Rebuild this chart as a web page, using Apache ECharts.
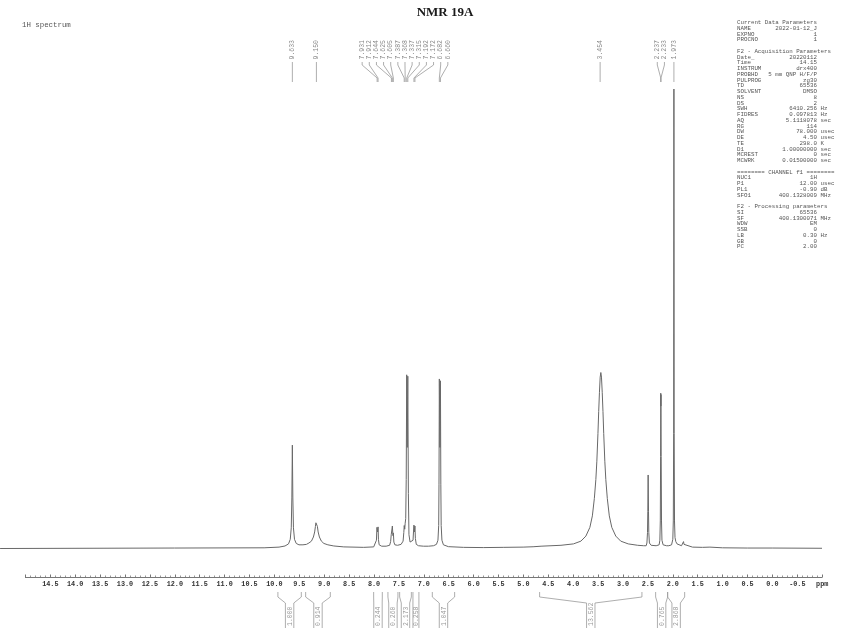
<!DOCTYPE html>
<html><head><meta charset="utf-8">
<script src="https://cdn.jsdelivr.net/npm/echarts@6/dist/echarts.min.js"></script>
<style>html,body{margin:0;padding:0;background:#fff}#c{width:860px;height:637px}</style>
</head><body><div id="c"></div>
<script>
const titleText = 'NMR 19A';
const subtitleText = '1H spectrum';

// spectrum: chemical shift (ppm) and relative intensity (%)
const specPpm = [15.50,12.0,10.2,9.9,9.78,9.71,9.675,9.655,9.643,9.633,9.623,9.611,9.59,9.555,9.5,9.42,9.35,9.30,9.25,9.21,9.185,9.17,9.16,9.15,9.14,9.13,9.115,9.09,9.05,9.0,8.92,8.8,8.6,8.2,8.0,7.96,7.945,7.935,7.931,7.921,7.912,7.905,7.89,7.84,7.75,7.68,7.66,7.648,7.644,7.634,7.625,7.614,7.605,7.595,7.575,7.52,7.45,7.41,7.395,7.387,7.377,7.368,7.357,7.347,7.337,7.326,7.315,7.304,7.292,7.27,7.235,7.21,7.2,7.192,7.182,7.172,7.163,7.145,7.1,7.0,6.9,6.8,6.74,6.71,6.695,6.689,6.682,6.671,6.660,6.652,6.645,6.63,6.6,6.5,6.2,5.8,5.4,5.0,4.8,4.64,4.24,3.99,3.84,3.74,3.66,3.61,3.57,3.54,3.52,3.498,3.483,3.468,3.453,3.44,3.427,3.412,3.397,3.382,3.36,3.34,3.31,3.27,3.22,3.14,3.04,2.89,2.7,2.58,2.53,2.515,2.503,2.497,2.49,2.483,2.477,2.465,2.43,2.33,2.27,2.255,2.246,2.24,2.237,2.235,2.233,2.229,2.222,2.213,2.19,2.12,2.085,2.075,2.02,1.995,1.985,1.978,1.973,1.968,1.961,1.951,1.935,1.91,1.87,1.82,1.79,1.78,1.77,1.74,1.6,1.4,1.25,1.225,1.21,1.0,0.5,0.0,-1.0];
const specInt = [0,0.1,0.15,0.3,0.55,1.0,2.0,4.5,11,22.5,11,4.5,2.0,1.1,0.8,0.8,0.9,1.2,1.6,2.5,3.6,4.8,5.6,6.0,5.6,4.8,3.6,2.5,1.6,1.1,0.8,0.55,0.35,0.25,0.35,0.7,1.8,4.6,4.9,3.6,4.7,2.0,0.8,0.5,0.5,0.7,1.5,3.0,3.2,2.6,4.9,2.8,3.4,1.4,0.8,0.7,0.9,1.6,3.5,5.0,4.2,5.5,6.5,15,37.8,22,37.5,12,3.0,1.4,1.1,1.8,3.8,5.1,3.6,4.9,2.2,0.9,0.6,0.5,0.5,0.6,0.9,1.8,5,14,36.9,22,36.5,14,5,1.8,0.8,0.4,0.25,0.2,0.25,0.3,0.38,0.5,0.7,1.0,1.6,2.7,4.6,7.1,10.9,15,19,25,29.8,34,37.3,38.3,37.3,34,29.8,25,19,15,10.9,7.1,4.6,2.7,1.6,1.0,0.7,0.6,0.6,1.2,3.5,8,16.0,8,3.5,1.2,0.7,0.6,0.8,1.8,6,20,33.8,31,33.5,20,6,1.8,0.8,0.6,0.9,0.6,0.8,2.0,6,25,100,25,6,2.4,1.5,1.0,0.6,0.6,1.0,1.5,0.9,0.5,0.3,0.25,0.3,0.6,0.3,0.15,0.1,0.1,0.05];

// peak picking labels (groups share a fan of leader lines)
const peakGroups = [
  ['9.633'],
  ['9.150'],
  ['7.931','7.912','7.644','7.625','7.605','7.387','7.368','7.337','7.315','7.192','7.172','6.682','6.660'],
  ['3.454'],
  ['2.237','2.233'],
  ['1.973']
];

// integrals
const integralStart = [9.923, 9.366, 8.001, 7.714, 7.479, 7.212, 6.823, 4.669, 2.340, 2.099];
const integralEnd   = [9.453, 8.871, 7.827, 7.513, 7.244, 7.092, 6.375, 2.615, 2.099, 1.757];
const integralValues = ['1.000','0.914','0.244','0.260','2.173','0.258','1.047','13.562','0.765','2.868'];

// ruler
const axisMin = -1, axisMax = 15, tickInterval = 0.5;

// acquisition parameters
const paramNames = ['Current Data Parameters','NAME','EXPNO','PROCNO','','F2 - Acquisition Parameters','Date_','Time','INSTRUM','PROBHD','PULPROG','TD','SOLVENT','NS','DS','SWH','FIDRES','AQ','RG','DW','DE','TE','D1','MCREST','MCWRK','','======== CHANNEL f1 ========','NUC1','P1','PL1','SFO1','','F2 - Processing parameters','SI','SF','WDW','SSB','LB','GB','PC'];
const paramValues = ['','2022-01-12_J','1','1','','','20220112','14.15','drx400','5 mm QNP H/F/P','zg30','65536','DMSO','8','2','6410.256','0.097813','5.1118078','114','78.000','4.50','298.0','1.00000000','0','0.01500000','','','1H','12.00','-0.90','400.1328009','','','65536','400.1300071','EM','0','0.30','0','2.00'];
const paramUnits = ['','','','','','','','','','','','','','','','Hz','Hz','sec','','usec','usec','K','sec','sec','sec','','','','usec','dB','MHz','','','','MHz','','','Hz','',''];

const specMaxPpm = 15.502;
const mono = '"Liberation Mono", "DejaVu Sans Mono", monospace';

const chart = echarts.init(document.getElementById('c'), null, {renderer: 'canvas'});
chart.setOption({
  animation: false,
  grid: [
    {left: 0, right: 38, top: 89, bottom: 88.5},
    {left: 25.4, right: 37.8, top: 570, bottom: 60}
  ],
  xAxis: [
    {type: 'value', gridIndex: 0, min: axisMin, max: specMaxPpm, inverse: true, show: false},
    {type: 'value', gridIndex: 1, min: axisMin, max: axisMax, inverse: true, interval: tickInterval,
     axisLine: {lineStyle: {color: '#777', width: 1}},
     axisTick: {inside: true, length: 2.5, lineStyle: {color: '#777'}},
     minorTick: {show: true, splitNumber: 5, length: 1.5, lineStyle: {color: '#999'}},
     splitLine: {show: false},
     axisLabel: {margin: 4, fontFamily: mono, fontSize: 6.8, fontWeight: 'bold', color: '#333',
       formatter: v => Math.abs(v - axisMin) < 1e-9 ? 'ppm' : (Math.abs(v - axisMax) < 1e-9 ? '' : v.toFixed(1))}}
  ],
  yAxis: [
    {type: 'value', gridIndex: 0, min: 0, max: 100, show: false},
    {type: 'value', gridIndex: 1, min: 0, max: 1, show: false}
  ],
  series: [
    {type: 'line', xAxisIndex: 0, yAxisIndex: 0, showSymbol: false, symbol: 'none', clip: false,
     lineStyle: {color: '#686868', width: 1},
     data: specPpm.map((p, i) => [p, specInt[i]])},
    {type: 'line', xAxisIndex: 1, yAxisIndex: 1, data: []}
  ]
});

const px = v => chart.convertToPixel({xAxisIndex: 0}, v);
const g = [];
function txt(x, y, text, font, fill, align, valign, rot) {
  g.push({type: 'text', x: x, y: y, rotation: rot || 0, silent: true,
    style: {text: text, font: font, fill: fill, textAlign: align, align: align,
            textVerticalAlign: valign, verticalAlign: valign}});
}
function line(points, color) {
  g.push({type: 'polyline', silent: true, shape: {points: points},
    style: {stroke: color, fill: 'none', lineWidth: 0.8}});
}

txt(445, 12.5, titleText, 'bold 13px "Liberation Serif", serif', '#1a1a1a', 'center', 'middle');
txt(22, 25, subtitleText, '7.4px ' + mono, '#555', 'left', 'middle');

// parameters block
const lines = paramNames.map((n, i) => {
  const v = paramValues[i];
  if (!v) return n;
  const pad = Math.max(1, 23 - n.length - v.length);
  return n + ' '.repeat(pad) + v + (paramUnits[i] ? ' ' + paramUnits[i] : '');
});
lines.forEach((l, i) => txt(737, 22.7 + i * 5.75, l, '5.8px ' + mono, '#555', 'left', 'middle'));

// peak labels
const labelSpacing = 7.14;
peakGroups.forEach(grp => {
  const pks = grp.map(l => px(parseFloat(l)));
  const mean = pks.reduce((a, b) => a + b, 0) / pks.length;
  grp.forEach((l, i) => {
    const lx = mean + (i - (grp.length - 1) / 2) * labelSpacing;
    txt(lx, 59.5, l, '6.5px ' + mono, '#888', 'left', 'middle', Math.PI / 2);
    if (grp.length === 1) line([[lx, 62], [lx, 82]], '#999');
    else line([[lx, 62], [lx, 65], [pks[i], 78], [pks[i], 82]], '#999');
  });
});

// integrals
integralValues.forEach((val, i) => {
  const x1 = px(integralStart[i]), x2 = px(integralEnd[i]);
  const cx = (x1 + x2) / 2;
  const s = Math.min(4.2, (x2 - x1) / 2);
  line([[x1, 592], [x1, 597], [cx - s, 603], [cx - s, 628]], '#999');
  line([[x2, 592], [x2, 597], [cx + s, 603], [cx + s, 628]], '#999');
  txt(cx + 0.5, 626, val, '6.5px ' + mono, '#999', 'left', 'middle', Math.PI / 2);
});

chart.setOption({graphic: g});
</script>
</body></html>
